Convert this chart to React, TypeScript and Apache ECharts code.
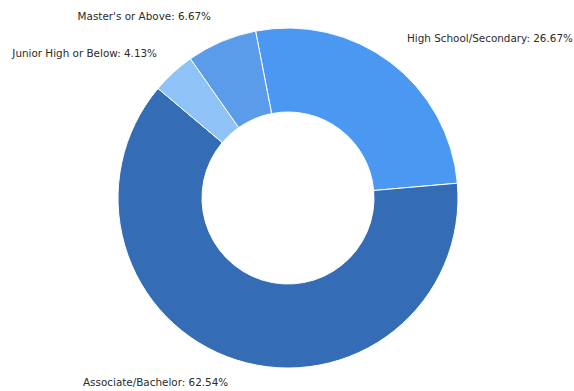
import React, { useEffect, useRef } from "react";
import * as echarts from "echarts";

const categories = [
  "High School/Secondary",
  "Associate/Bachelor",
  "Junior High or Below",
  "Master's or Above",
];
const values = [26.67, 62.54, 4.13, 6.67];
const colors = ["#4a98f2", "#356cb6", "#8fc2f7", "#5a9bea"];

// label anchor placement (text layout only)
const labelPlacement: { x: number; y: number; align: "left" | "right" }[] = [
  { x: 407, y: 38, align: "left" },
  { x: 83, y: 382, align: "left" },
  { x: 157, y: 53, align: "right" },
  { x: 211, y: 15.5, align: "right" },
];

export default function App() {
  const ref = useRef<HTMLDivElement>(null);
  useEffect(() => {
    if (!ref.current) return;
    const chart = echarts.init(ref.current, null, { renderer: "svg" });
    chart.setOption({
      animation: false,
      backgroundColor: "#ffffff",
      series: [
        {
          type: "pie",
          center: [288, 198],
          radius: [86, 170],
          startAngle: 101,
          clockwise: true,
          avoidLabelOverlap: false,
          data: categories.map((c, i) => ({
            name: c,
            value: values[i],
            itemStyle: { color: colors[i] },
          })),
          itemStyle: { borderColor: "#ffffff", borderWidth: 1 },
          label: {
            show: true,
            position: "outside",
            formatter: (p: any) => `${p.name}: ${values[p.dataIndex].toFixed(2)}%`,
            color: "#2b2b2b",
            fontFamily: "DejaVu Sans",
            fontSize: 10.4,
          },
          labelLine: { show: false, length: 28, length2: 2 },
          labelLayout: (params: any) => {
            const p = labelPlacement[params.dataIndex];
            return { x: p.x, y: p.y, align: p.align, verticalAlign: "middle" };
          },
        },
      ],
    });
    return () => chart.dispose();
  }, []);
  return <div ref={ref} style={{ width: 574, height: 391, position: "absolute", left: 0, top: 0 }} />;
}
